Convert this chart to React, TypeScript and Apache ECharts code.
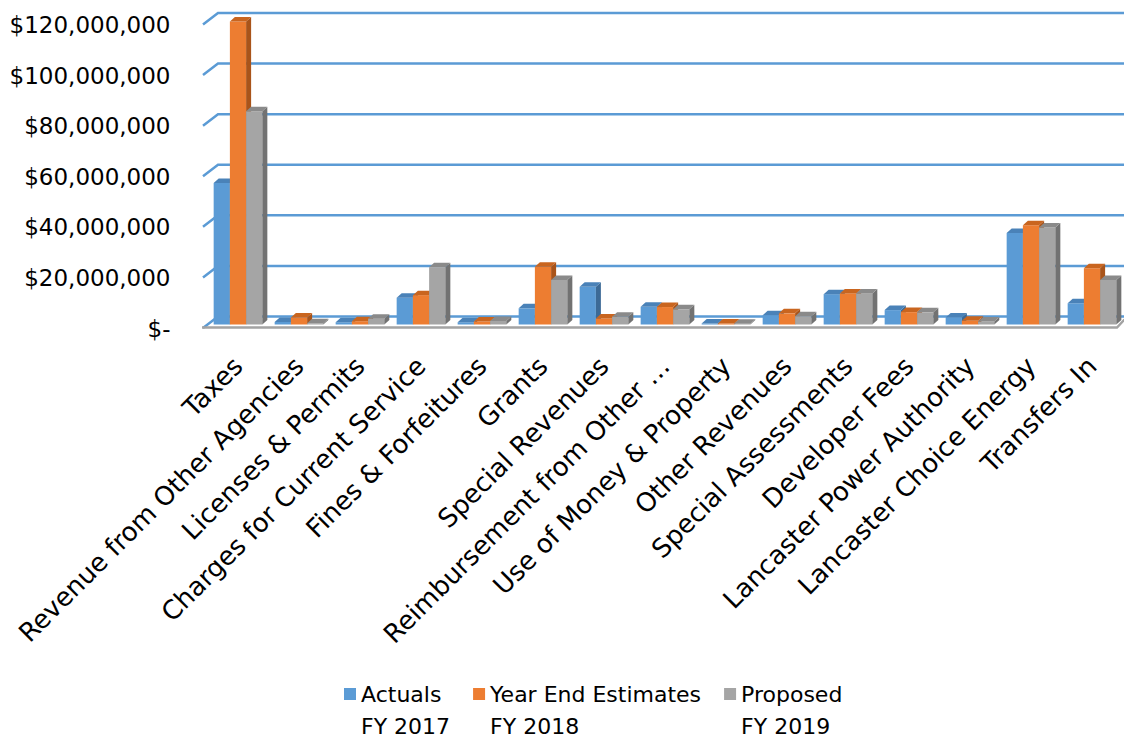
import React, { useEffect, useRef } from "react";
import * as echarts from "echarts";

const categories = [
  "Taxes",
  "Revenue from Other Agencies",
  "Licenses & Permits",
  "Charges for Current Service",
  "Fines & Forfeitures",
  "Grants",
  "Special Revenues",
  "Reimbursement from Other …",
  "Use of Money & Property",
  "Other Revenues",
  "Special Assessments",
  "Developer Fees",
  "Lancaster Power Authority",
  "Lancaster Choice Energy",
  "Transfers In",
];

const actualsFY2017 = [
  55900000, 1000000, 900000, 10600000, 900000, 6400000, 14900000, 7000000,
  400000, 3700000, 12000000, 5700000, 2800000, 36200000, 8400000,
];
const yearEndEstimatesFY2018 = [
  119800000, 2800000, 1300000, 11600000, 1200000, 22800000, 2400000, 6900000,
  400000, 4400000, 12300000, 4900000, 1500000, 39200000, 22200000,
];
const proposedFY2019 = [
  84300000, 500000, 2300000, 22600000, 1400000, 17600000, 3100000, 6000000,
  300000, 3300000, 12300000, 4800000, 1200000, 38400000, 17600000,
];

const yTicks = [0, 20000000, 40000000, 60000000, 80000000, 100000000, 120000000];

const seriesNames = ["Actuals\nFY 2017", "Year End Estimates\nFY 2018", "Proposed\nFY 2019"];

const FONT = "DejaVu Sans";

const palette = [
  { front: "#5b9bd5", top: "#4a82b8", side: "#3c6a96" },
  { front: "#ed7d31", top: "#c9651f", side: "#a9541a" },
  { front: "#a5a5a5", top: "#8a8a8a", side: "#727272" },
];

export default function App() {
  const ref = useRef<HTMLDivElement>(null);

  useEffect(() => {
    const chart = echarts.init(ref.current!, null, { renderer: "svg" });
    const seriesValues = [actualsFY2017, yearEndEstimatesFY2018, proposedFY2019];

    const barSeries = seriesValues.map((vals, k) => ({
      type: "custom",
      name: seriesNames[k],
      itemStyle: { color: palette[k].front },
      data: vals.map((v, i) => [i, v]),
      encode: { x: 0, y: 1 },
      z: 3,
      renderItem: (params: any, api: any) => {
        const i = api.value(0);
        const v = api.value(1);
        const base = api.coord([i, 0]);
        const top = api.coord([i, v]);
        const band = api.size([1, 0])[0];
        const bw = band * 0.266;
        const x = base[0] - 1.5 * bw + k * bw;
        const w = bw;
        const dx = 5;
        const dy = -4.5;
        const yT = top[1];
        const yB = base[1];
        return {
          type: "group",
          children: [
            {
              type: "rect",
              shape: { x, y: yT, width: w, height: yB - yT },
              style: { fill: palette[k].front },
            },
            {
              type: "polygon",
              shape: {
                points: [
                  [x + w, yT],
                  [x + w + dx, yT + dy],
                  [x + w + dx, yB + dy],
                  [x + w, yB],
                ],
              },
              style: { fill: palette[k].side },
            },
            {
              type: "polygon",
              shape: {
                points: [
                  [x, yT],
                  [x + w, yT],
                  [x + w + dx, yT + dy],
                  [x + dx, yT + dy],
                ],
              },
              style: { fill: palette[k].top },
            },
          ],
        };
      },
    }));

    const gridSeries = {
      type: "custom",
      name: "gridlines",
      silent: true,
      z: 1,
      data: yTicks.map((v) => [0, v]),
      encode: { x: 0, y: 1 },
      renderItem: (params: any, api: any) => {
        const cs = params.coordSys;
        const y = api.coord([0, api.value(1)])[1];
        return {
          type: "polyline",
          shape: {
            points: [
              [cs.x - 4.5, y + 3.5],
              [cs.x + 10.5, y - 8],
              [cs.x + cs.width + 40, y - 8],
            ],
          },
          style: { stroke: "#5b9bd5", lineWidth: 2.5, fill: "none" },
        };
      },
    };

    const floorSeries = {
      type: "custom",
      name: "floor",
      silent: true,
      z: 2,
      data: [[0, 0]],
      encode: { x: 0, y: 1 },
      renderItem: (params: any, api: any) => {
        const cs = params.coordSys;
        const y = api.coord([0, 0])[1];
        return {
          type: "polyline",
          shape: {
            points: [
              [cs.x - 5.5, y + 3],
              [cs.x + cs.width - 5.5, y + 3],
              [cs.x + cs.width + 2, y - 5],
            ],
          },
          style: { stroke: "#a3a3a3", lineWidth: 2.5, fill: "none" },
        };
      },
    };

    chart.setOption({
      animation: false,
      backgroundColor: "#ffffff",
      textStyle: { fontFamily: FONT },
      grid: { left: 207.5, top: 21, width: 915, height: 303.5, containLabel: false },
      xAxis: {
        type: "category",
        data: categories,
        axisLine: { show: false },
        axisTick: { show: false },
        splitLine: { show: false },
        axisLabel: {
          interval: 0,
          rotate: 45,
          margin: 37,
          fontFamily: FONT,
          fontSize: 26,
          color: "#000",
        },
      },
      yAxis: {
        type: "value",
        min: 0,
        max: 120000000,
        interval: 20000000,
        axisLine: { show: false },
        axisTick: { show: false },
        splitLine: { show: false },
        axisLabel: {
          margin: 37,
          fontFamily: FONT,
          fontSize: 23,
          color: "#000",
          verticalAlign: "top",
          lineHeight: 8,
          formatter: (v: number) => (v === 0 ? "$-" : "$" + v.toLocaleString("en-US")),
        },
      },
      legend: {
        data: seriesNames,
        left: 344,
        top: 646,
        padding: 0,
        icon: "rect",
        itemWidth: 12,
        itemHeight: 12,
        itemGap: 23,
        formatter: (name: string) => "\n" + name,
        textStyle: {
          fontFamily: FONT,
          fontSize: 22,
          color: "#000",
          lineHeight: 32,
        },
      },
      series: [gridSeries, floorSeries, ...barSeries],
    });

    return () => chart.dispose();
  }, []);

  return (
    <div
      ref={ref}
      style={{ position: "fixed", left: 0, top: 0, width: 1124, height: 740, background: "#fff" }}
    />
  );
}
